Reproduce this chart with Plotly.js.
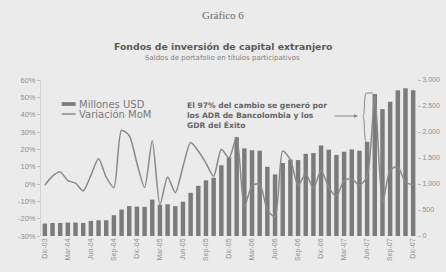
<!DOCTYPE html>
<html>
<head>
<meta charset="utf-8">
<script src="https://cdn.plot.ly/plotly-3.0.1.min.js"></script>
<style>
html,body{margin:0;padding:0;background:#ebebeb;}
#chart{width:446px;height:272px;}
</style>
</head>
<body>
<div id="chart"></div>
<script>
const months = [
  "Dic-03",
  "Ene-04","Feb-04","Mar-04","Abr-04","May-04","Jun-04","Jul-04","Ago-04","Sep-04","Oct-04","Nov-04","Dic-04",
  "Ene-05","Feb-05","Mar-05","Abr-05","May-05","Jun-05","Jul-05","Ago-05","Sep-05","Oct-05","Nov-05","Dic-05",
  "Ene-06","Feb-06","Mar-06","Abr-06","May-06","Jun-06","Jul-06","Ago-06","Sep-06","Oct-06","Nov-06","Dic-06",
  "Ene-07","Feb-07","Mar-07","Abr-07","May-07","Jun-07","Jul-07","Ago-07","Sep-07","Oct-07","Nov-07","Dic-07"
];
const millonesUSD = [
  240,
  250,250,258,258,252,290,302,302,400,508,575,565,
  560,700,600,610,575,660,830,965,1070,1120,1360,1510,
  1900,1685,1650,1640,1330,1185,1405,1470,1460,1580,1595,1740,
  1660,1560,1620,1665,1640,1811,2730,2440,2580,2805,2840,2805
];
const variacionMoM = [
  -0.7,
  4.5,7,2,0.5,-4,5,14.7,4,-2,31,28,12,
  -2,25,-12,4,-5,10,24,19,12,4.5,20,15,
  27,-13,-1,0,-15,-19,19,14,-1,6,-2.5,8,
  -2,-7,2,3,-0.7,4.4,51,-11,8,10,1,-0.5
];
const tickLabels = ["Dic-03","Mar-04","Jun-04","Sep-04","Dic-04","Mar-05","Jun-05","Sep-05","Dic-05",
  "Mar-06","Jun-06","Sep-06","Dic-06","Mar-07","Jun-07","Sep-07","Dic-07"];
const leftTicks = [-30,-20,-10,0,10,20,30,40,50,60];
const leftTickText = ["-30%","-20%","-10%","0%","10%","20%","30%","40%","50%","60%"];
const rightTicks = [0,500,1000,1500,2000,2500,3000];
const seriesNames = ["Millones USD","Variación MoM"];

const barColor = "#7b7b7b";
const lineColor = "#8a8a8a";
const tickFont = {family:"Liberation Sans, Arial, sans-serif", size:7, color:"#8f8f8f"};
const leftTickFont = {family:"Liberation Sans, Arial, sans-serif", size:7.5, color:"#8f8f8f"};

const traces = [
  {type:"bar", x:months, y:millonesUSD, name:seriesNames[0], yaxis:"y",
   marker:{color:barColor}, showlegend:false, hoverinfo:"skip"},
  {type:"scatter", mode:"lines", x:months, y:variacionMoM, name:seriesNames[1], yaxis:"y2",
   line:{color:lineColor, width:1.5, shape:"spline", smoothing:0.7}, showlegend:false, hoverinfo:"skip"}
];

const layout = {
  width:446, height:272,
  margin:{l:41, r:29, t:80, b:36, pad:0},
  paper_bgcolor:"#ebebeb", plot_bgcolor:"#ebebeb",
  separators:",.",
  bargap:0.42,
  font:{family:"Liberation Sans, Arial, sans-serif", color:"#666"},
  xaxis:{type:"category", tickmode:"array", tickvals:tickLabels, ticktext:tickLabels,
    tickangle:-90, tickfont:tickFont, showgrid:false, zeroline:false, showline:false,
    ticks:"", range:[-0.5, months.length-0.5]},
  yaxis:{side:"right", range:[0,3000], tickmode:"array", tickvals:rightTicks, tickformat:",", tickfont:tickFont,
    showgrid:false, zeroline:false, showline:false, ticks:"outside", ticklen:3, tickcolor:"#bdbdbd"},
  yaxis2:{side:"left", overlaying:"y", range:[-30,60], tickmode:"array", tickvals:leftTicks, ticktext:leftTickText,
    tickfont:leftTickFont, showgrid:false, zeroline:false, showline:true, linecolor:"#d2d2d2", linewidth:1,
    ticks:"outside", ticklen:3, tickcolor:"#bdbdbd"},
  shapes:[
    {type:"rect", xref:"paper", yref:"paper", x0:0.055, x1:0.092, y0:0.834, y1:0.858,
     fillcolor:barColor, line:{width:0}},
    {type:"line", xref:"paper", yref:"paper", x0:0.055, x1:0.092, y0:0.782, y1:0.782,
     line:{color:lineColor, width:1.5}},
    {type:"path", xref:"x", yref:"y",
     path:"M 41.9,2750 C 41.55,2750 41.75,2300 41.45,2294 C 41.75,2288 41.55,1813 41.9,1813",
     line:{color:"#8a8a8a", width:1}},
    {type:"line", xref:"x", yref:"y", x0:41.9, x1:42.75, y0:2750, y1:2750,
     line:{color:"#8a8a8a", width:1}}
  ],
  annotations:[
    {xref:"paper", yref:"paper", x:0.485, y:1.417, xanchor:"center", yanchor:"middle", text:"Gráfico 6", showarrow:false,
     font:{family:"Liberation Serif, Times New Roman, serif", size:11, color:"#6a6a6a"}},
    {xref:"paper", yref:"paper", x:0.483, y:1.213, xanchor:"center", yanchor:"middle",
     text:"<b>Fondos de inversión de capital extranjero</b>", showarrow:false,
     font:{family:"DejaVu Sans, sans-serif", size:9.3, color:"#5a5a5a"}},
    {xref:"paper", yref:"paper", x:0.483, y:1.141, xanchor:"center", yanchor:"middle",
     text:"Saldos de portafolio en títulos participativos", showarrow:false,
     font:{family:"DejaVu Sans, sans-serif", size:7, color:"#808080"}},
    {xref:"paper", yref:"paper", x:0.096, y:0.846, xanchor:"left", yanchor:"middle", text:seriesNames[0], showarrow:false,
     font:{family:"DejaVu Sans, sans-serif", size:10, color:"#7a7a7a"}},
    {xref:"paper", yref:"paper", x:0.096, y:0.779, xanchor:"left", yanchor:"middle", text:seriesNames[1], showarrow:false,
     font:{family:"DejaVu Sans, sans-serif", size:10, color:"#7a7a7a"}},
    {xref:"paper", yref:"paper", x:0.383, y:0.772, xanchor:"left", yanchor:"middle", align:"left", showarrow:false,
     text:"<b>El 97% del cambio se generó por<br>los ADR de Bancolombia y los<br>GDR del Éxito</b>",
     font:{family:"DejaVu Sans, sans-serif", size:7.6, color:"#666666"}},
    {xref:"x", yref:"y", x:40.8, y:2308, axref:"x", ayref:"y", ax:37.55, ay:2308, text:"",
     showarrow:true, arrowhead:2, arrowsize:0.8, arrowwidth:1, arrowcolor:"#8a8a8a"}
  ]
};

Plotly.newPlot("chart", traces, layout, {staticPlot:true, displayModeBar:false});
</script>
</body>
</html>
